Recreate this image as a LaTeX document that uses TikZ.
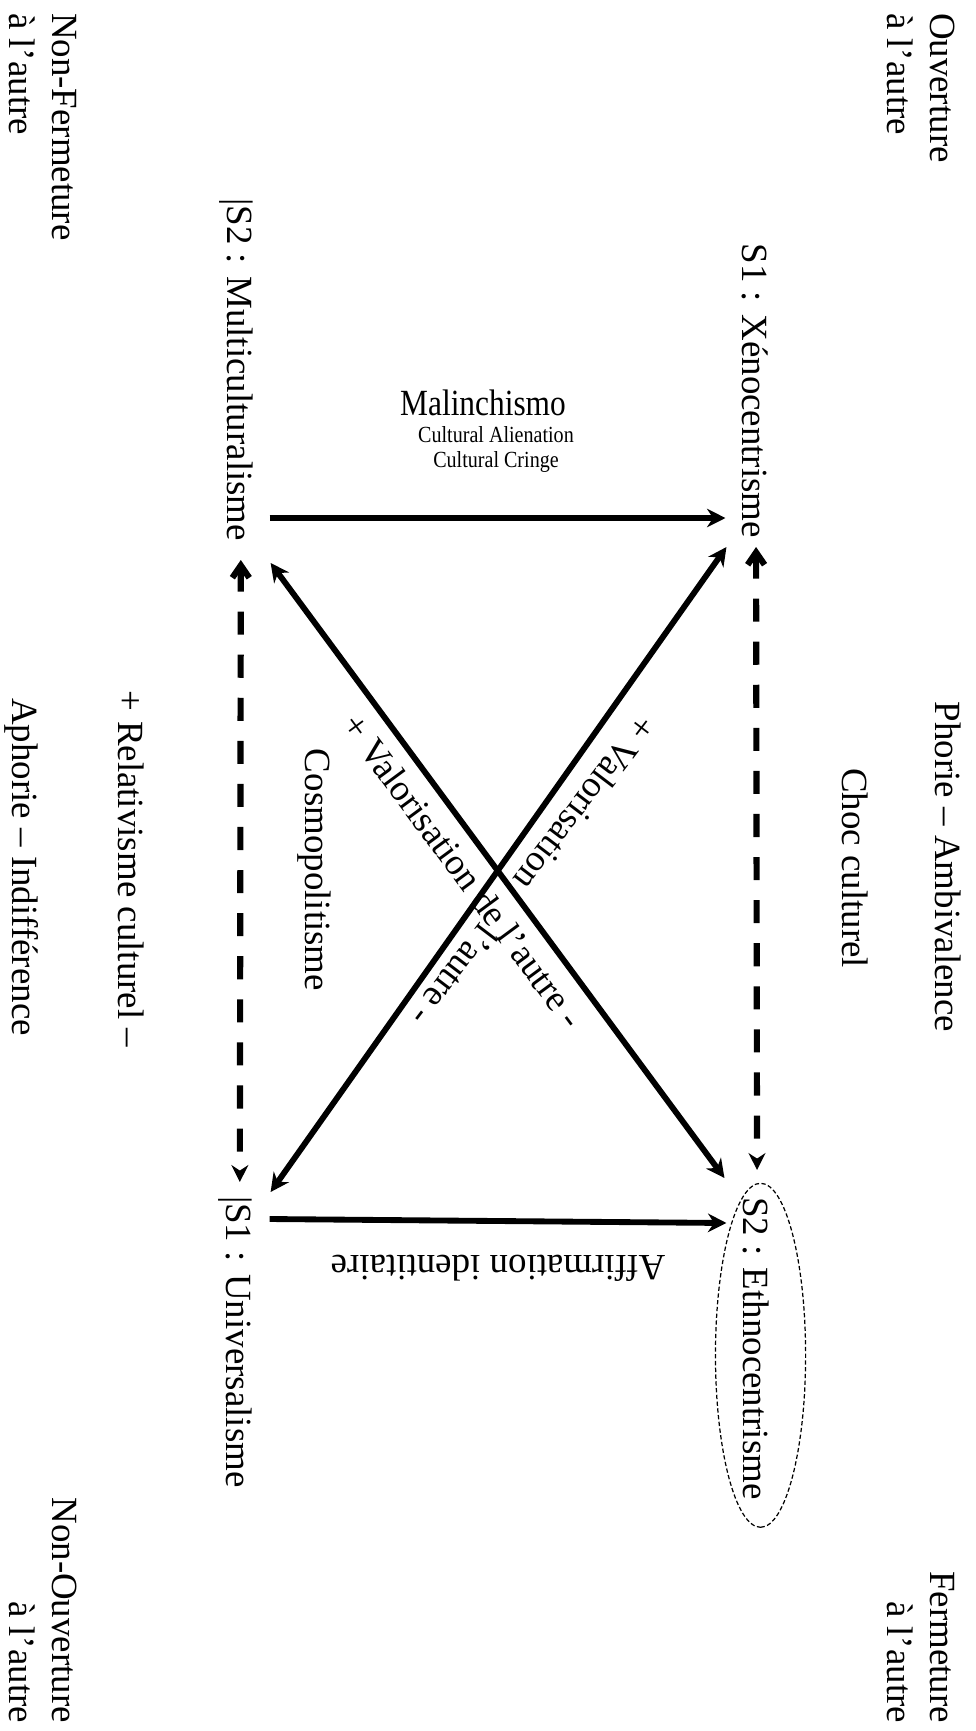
\documentclass[tikz,border=0pt]{standalone}
\usepackage{fontspec}
\setmainfont{Liberation Serif}
\usepackage{tikz}
\usetikzlibrary{arrows.meta, shapes.geometric, positioning}

\tikzset{
  term/.style={rotate=-90, inner sep=0pt, outer sep=0pt, font=\fontsize{12}{14}\selectfont},
  corner/.style={term, align=left},
  gloss/.style={inner sep=1.2pt, font=\fontsize{12}{14}\selectfont},
  small/.style={inner sep=0pt, font=\fontsize{7.5}{9}\selectfont, xscale=0.87},
  link/.style={line width=1.9pt, -{Stealth[length=6pt, width=6pt]}},
  twolink/.style={line width=1.9pt, {Stealth[length=6pt, width=6pt]}-{Stealth[length=6pt, width=6pt]}},
  opposite/.style={line width=2pt, dash pattern=on 7.5pt off 6.5pt,
    {Straight Barb[length=4pt, width=5.5pt]}-{Stealth[length=5.5pt, width=5.5pt]}},
  ring/.style={draw, ellipse, rotate=-90, inner sep=0pt, line width=0.4pt,
    dash pattern=on 1.4pt off 0.8pt},
}

\begin{document}
\begin{tikzpicture}[x=0.325pt, y=-0.325pt]
  \useasboundingbox (0,0) rectangle (976,1731);

  % Corners of the square
  \node[term, anchor=base east] (xeno) at (742,538) {S1 : Xénocentrisme};
  \node[term, anchor=base east] (multi) at (227,541) {|S2 : Multiculturalisme};
  \node[term, anchor=base west] (univ) at (226,1196) {|S1 : Universalisme};
  \node[term, anchor=base west] (ethno) at (743,1197) {S2 : Ethnocentrisme};
  \node[ring, minimum width=111.8pt, minimum height=29.3pt] (ethnoring)
    at ([shift={(5,7)}]ethno.center) {};

  % Outer labels
  \node[corner, anchor=north west] (open) at (955,13) {Ouverture\\à l'autre};
  \node[corner, anchor=south west] (nonclose) at (9,13) {Non-Fermeture\\à l'autre};
  \node[corner, align=right, anchor=north east] (close) at (955,1723) {Fermeture\\à l'autre};
  \node[corner, align=right, anchor=south east] (nonopen) at (9,1723) {Non-Ouverture\\à l'autre};

  % Side labels
  \node[term, anchor=base] (phorie) at (935,867) {Phorie – Ambivalence};
  \node[term, anchor=base] (choc) at (842,868) {Choc culturel};
  \node[term, anchor=base] (relat) at (118,869) {+ Relativisme culturel –};
  \node[term, anchor=base] (aphorie) at (13,867) {Aphorie – Indifférence};
  \node[term, anchor=base] (cosmo) at (305,870) {Cosmopolitisme};

  % Top and bottom labels
  \node[gloss, inner sep=0pt, xscale=0.85, anchor=base] (malin) at (483,415) {Malinchismo};
  \node[small, anchor=base] (alien) at (496,442) {Cultural Alienation};
  \node[small, anchor=base] (cringe) at (496,467) {Cultural Cringe};
  \node[gloss, inner sep=0pt, rotate=180, anchor=base] (affirm) at (498,1255) {Affirmation identitaire};

  % Arrows
  \draw[link] ([shift={(17,-23)}]multi.north east) -- ([shift={(-16,-20)}]xeno.south east);
  \draw[link] ([shift={(18,23)}]univ.north west) -- ([shift={(-16,26)}]ethno.south west);
  \draw[twolink] ([shift={(18,22)}]multi.north east)
    -- node[gloss, sloped, below, inner sep=3.9pt, pos=0.474] (valA) {+ Valorisation de l'autre -}
    ([shift={(-18,-19)}]ethno.south west);
  \draw[twolink] ([shift={(19,-4)}]univ.north west)
    -- node[gloss, sloped, rotate=178, above, inner sep=4.5pt, pos=0.525] (valB) {+ Valorisation \phantom{de} l'autre -}
    ([shift={(-15,9)}]xeno.south east);

  % Dashed contraries
  \draw[opposite] ([shift={(5,19)}]multi.east) -- ([shift={(5,-14)}]univ.west);
  \draw[opposite] ([shift={(1.5,9)}]xeno.east) -- ([shift={(1.5,-27)}]ethno.west);
\end{tikzpicture}
\end{document}
